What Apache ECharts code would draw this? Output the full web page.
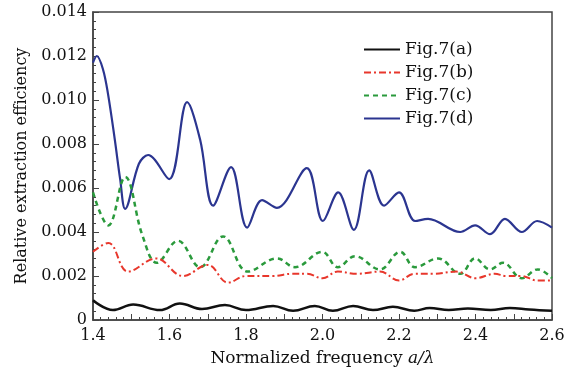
<!DOCTYPE html>
<html>
<head>
<meta charset="utf-8">
<script src="https://cdn.jsdelivr.net/npm/echarts@6/dist/echarts.min.js"></script>
<style>
  html, body { margin: 0; padding: 0; background: #fff; }
  #chart { width: 586px; height: 378px; }
</style>
</head>
<body>
<div id="chart"></div>
<script>
// normalized frequency a/lambda vs relative extraction efficiency
const seriesNames = ["Fig.7(a)", "Fig.7(b)", "Fig.7(c)", "Fig.7(d)"];

const freqA = [1.40, 1.452, 1.505, 1.575, 1.627, 1.685, 1.745, 1.80, 1.871, 1.923, 1.98, 2.027, 2.08, 2.132, 2.184, 2.24, 2.28, 2.33, 2.38, 2.44, 2.49, 2.54, 2.60];
const effA = [0.0009, 0.00045, 0.0007, 0.00045, 0.00075, 0.0005, 0.00068, 0.00045, 0.00064, 0.00042, 0.00064, 0.00042, 0.00064, 0.00045, 0.0006, 0.00042, 0.00055, 0.00045, 0.00052, 0.00045, 0.00055, 0.00048, 0.00042];

const freqB = [1.40, 1.44, 1.492, 1.565, 1.635, 1.70, 1.753, 1.80, 1.87, 1.92, 1.96, 2.00, 2.04, 2.09, 2.15, 2.20, 2.24, 2.29, 2.35, 2.40, 2.45, 2.48, 2.52, 2.56, 2.60];
const effB = [0.0031, 0.0035, 0.0022, 0.0028, 0.0020, 0.0025, 0.0017, 0.0020, 0.0020, 0.0021, 0.0021, 0.0019, 0.0022, 0.0021, 0.0022, 0.0018, 0.0021, 0.0021, 0.0022, 0.0019, 0.0021, 0.0020, 0.0020, 0.0018, 0.0018];

const freqC = [1.40, 1.44, 1.484, 1.53, 1.567, 1.622, 1.68, 1.74, 1.805, 1.881, 1.928, 1.999, 2.04, 2.085, 2.15, 2.203, 2.242, 2.302, 2.36, 2.399, 2.438, 2.472, 2.521, 2.563, 2.60];
const effC = [0.0058, 0.0043, 0.0065, 0.0038, 0.0026, 0.0036, 0.0024, 0.0038, 0.0022, 0.0028, 0.0024, 0.0031, 0.0024, 0.0029, 0.0023, 0.0031, 0.0024, 0.0028, 0.0021, 0.0028, 0.0023, 0.0026, 0.0019, 0.0023, 0.0019];

const freqD = [1.40, 1.41, 1.426, 1.439, 1.457, 1.471, 1.484, 1.52, 1.544, 1.599, 1.646, 1.68, 1.714, 1.761, 1.803, 1.842, 1.881, 1.959, 2.001, 2.041, 2.082, 2.122, 2.161, 2.20, 2.242, 2.276, 2.36, 2.399, 2.438, 2.477, 2.521, 2.561, 2.60];
const effD = [0.0117, 0.0120, 0.0114, 0.0103, 0.0082, 0.0064, 0.00505, 0.0071, 0.0075, 0.0064, 0.0099, 0.0082, 0.0052, 0.00695, 0.0042, 0.00545, 0.0051, 0.0069, 0.0045, 0.0058, 0.0041, 0.0068, 0.0052, 0.0058, 0.0045, 0.0046, 0.0040, 0.0043, 0.0039, 0.0046, 0.0040, 0.0045, 0.0042];

const xTickLabels = ["1.4", "1.6", "1.8", "2.0", "2.2", "2.4", "2.6"];
const yTickLabels = ["0", "0.002", "0.004", "0.006", "0.008", "0.010", "0.012", "0.014"];

const pair = (xs, ys) => xs.map((x, i) => [x, ys[i]]);

const serif = "DejaVu Serif";

const chart = echarts.init(document.getElementById("chart"));

chart.setOption({
  backgroundColor: "#fff",
  animation: false,
  textStyle: { fontFamily: serif },
  grid: {
    left: 93,
    top: 12,
    right: 34,
    bottom: 58,
    show: true,
    borderColor: "#444",
    borderWidth: 1.5,
  },
  legend: {
    orient: "vertical",
    left: 358,
    top: 36,
    itemWidth: 36,
    itemHeight: 10,
    itemGap: 6,
    // hide the circle the line series puts on its legend icon
    itemStyle: { opacity: 0 },
    textStyle: { fontFamily: serif, fontSize: 17, color: "#111" },
    data: seriesNames,
  },
  xAxis: {
    type: "value",
    min: 1.4,
    max: 2.6,
    interval: 0.1,
    name: "Normalized frequency {i|a/λ}",
    nameLocation: "middle",
    nameGap: 30,
    nameTextStyle: {
      fontFamily: serif,
      fontSize: 17,
      color: "#111",
      rich: { i: { fontFamily: serif, fontSize: 17, fontStyle: "italic", color: "#111" } },
    },
    axisLine: { lineStyle: { color: "#444", width: 1.5 } },
    axisTick: { inside: true, length: 6, lineStyle: { color: "#444" } },
    minorTick: { show: true, splitNumber: 5, length: 3, lineStyle: { color: "#444" } },
    splitLine: { show: false },
    axisLabel: {
      fontFamily: serif,
      fontSize: 16,
      color: "#111",
      margin: 8,
      formatter: (v) => {
        const k = Math.round((v - 1.4) * 10);
        return k % 2 === 0 ? xTickLabels[k / 2] : "";
      },
    },
  },
  yAxis: {
    type: "value",
    min: 0,
    max: 0.014,
    interval: 0.002,
    name: "Relative extraction efficiency",
    nameLocation: "middle",
    nameGap: 62,
    nameTextStyle: { fontFamily: serif, fontSize: 16, color: "#111" },
    axisLine: { show: true, lineStyle: { color: "#444", width: 1.5 } },
    axisTick: { show: true, inside: true, length: 6, lineStyle: { color: "#444" } },
    minorTick: { show: true, splitNumber: 5, length: 3, lineStyle: { color: "#444" } },
    splitLine: { show: false },
    axisLabel: {
      fontFamily: serif,
      fontSize: 16,
      color: "#111",
      margin: 6,
      formatter: (v) => yTickLabels[Math.round(v / 0.002)],
    },
  },
  series: [
    {
      name: seriesNames[0],
      type: "line",
      smooth: 0.4,
      symbol: "none",
      lineStyle: { color: "#111", width: 2.5 },
      itemStyle: { color: "#111" },
      data: pair(freqA, effA),
      z: 4,
    },
    {
      name: seriesNames[1],
      type: "line",
      smooth: 0.4,
      symbol: "none",
      lineStyle: { color: "#e8372c", width: 2, type: [7, 3, 2, 3] },
      itemStyle: { color: "#e8372c" },
      data: pair(freqB, effB),
      z: 3,
    },
    {
      name: seriesNames[2],
      type: "line",
      smooth: 0.4,
      symbol: "none",
      lineStyle: { color: "#2a9a3c", width: 2.5, type: [5, 4] },
      itemStyle: { color: "#2a9a3c" },
      data: pair(freqC, effC),
      z: 2,
    },
    {
      name: seriesNames[3],
      type: "line",
      smooth: 0.35,
      symbol: "none",
      lineStyle: { color: "#2b3590", width: 2.2 },
      itemStyle: { color: "#2b3590" },
      data: pair(freqD, effD),
      z: 1,
    },
  ],
});
</script>
</body>
</html>
